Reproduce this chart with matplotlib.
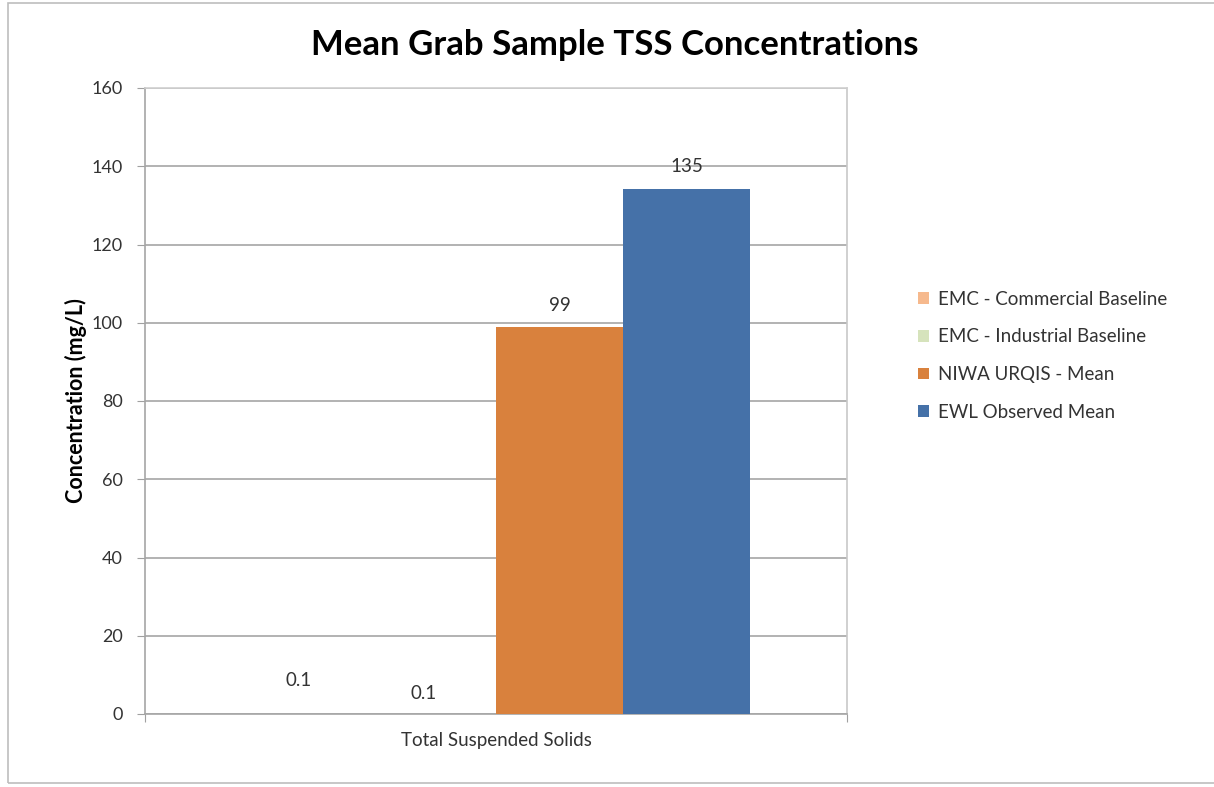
import matplotlib
matplotlib.use("Agg")
import matplotlib.pyplot as plt
from matplotlib.patches import Rectangle
import numpy as np

plt.rcParams['font.family'] = ['Lato', 'DejaVu Sans']

category = ["Total Suspended Solids"]
series = ["EMC - Commercial Baseline", "EMC - Industrial Baseline",
          "NIWA URQIS - Mean", "EWL Observed Mean"]
values = [0.1, 0.1, 98.8, 134.3]
value_labels = ["0.1", "0.1", "99", "135"]
colors = ["#F6B98D", "#D6E3BC", "#D9813D", "#4571A8"]
yticks = [0, 20, 40, 60, 80, 100, 120, 140, 160]

fig = plt.figure(figsize=(12.14, 7.87), dpi=100)
fig.patches.append(Rectangle((8/1214, 1 - 783/787), 1.2, (783-3)/787,
                             transform=fig.transFigure, fill=False,
                             edgecolor="#BDBDBD", linewidth=1.2))
ax = fig.add_axes([145/1214, 1 - 714/787, (847-145)/1214, (714-88)/787])

n = len(series)
width = 0.7236 / n
x0 = np.arange(len(category))
for i, (s, v, c) in enumerate(zip(series, values, colors)):
    pos = x0 - width * n / 2 + width * (i + 0.5)
    ax.bar(pos, [v], width=width, color=c, label=s, zorder=3, linewidth=0)

label_offsets = [(-5, 18), (-6.5, 8.5), (0, 10), (0, 9.5)]
for i, (v, lab) in enumerate(zip(values, value_labels)):
    pos = x0[0] - width * n / 2 + width * (i + 0.5)
    ax.annotate(lab, (pos, v), xytext=label_offsets[i], textcoords="offset points",
                ha="center", va="bottom", fontsize=13.5, color="#333333")

ax.set_xlim(-0.5, 0.5)
ax.set_ylim(0, 160)
ax.set_yticks(yticks)
ax.set_yticklabels([str(t) for t in yticks], fontsize=13, color="#333333")
ax.set_xticks([-0.5, 0.5])
ax.set_xticklabels(["", ""])
ax.set_xticks([0], minor=True)
ax.set_xticklabels(category, minor=True, fontsize=13.5, color="#333333")
ax.tick_params(axis="x", which="minor", length=0, pad=13)
ax.tick_params(axis="x", which="major", length=6, color="#A0A0A0", direction="out")
ax.tick_params(axis="y", length=6, color="#A0A0A0", direction="out", pad=10)
ax.yaxis.grid(True, color="#A6A6A6", linewidth=1.2, zorder=0)
ax.set_axisbelow(True)
for sp in ax.spines.values():
    sp.set_color("#A6A6A6")
    sp.set_linewidth(1.2)
ax.spines["top"].set_color("#D0D0D0")
ax.spines["right"].set_color("#C8C8C8")

ax.set_ylabel("Concentration (mg/L)", fontsize=15.5, fontweight="bold", labelpad=3)

fig.text(615/1214, 1 - 45/787, "Mean Grab Sample TSS Concentrations",
         ha="center", va="center", fontsize=25, fontweight="bold", color="black")

handles, labels = ax.get_legend_handles_labels()
fig.legend(handles, labels, loc="upper left", bbox_to_anchor=(901/1214, 1 - 274/787),
           frameon=False, fontsize=13.5, handlelength=0.6, handleheight=0.6,
           handletextpad=0.5, labelspacing=1.1, labelcolor="#333333")

fig.savefig("out.png", dpi=100)
